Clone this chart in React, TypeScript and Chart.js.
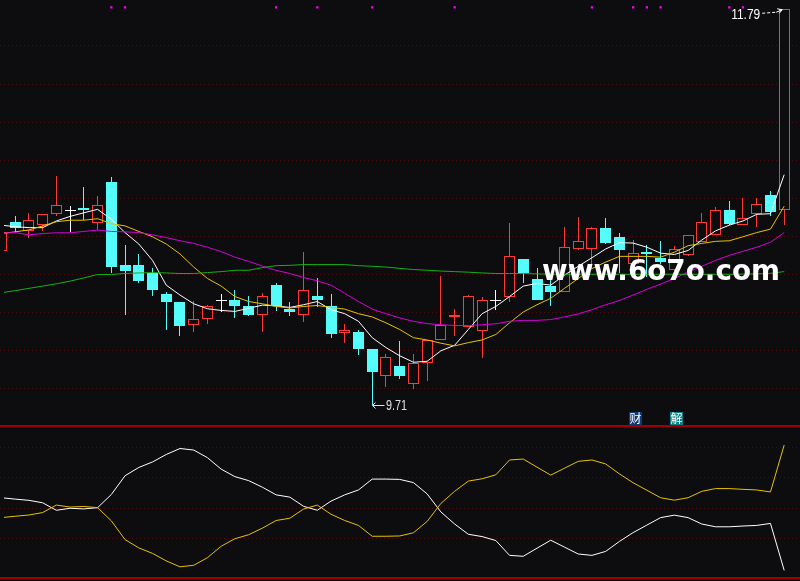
import React, { useEffect, useRef } from "react";
import { Chart, registerables } from "chart.js";

Chart.register(...registerables);

// ---------- data ----------
const OPEN = [10.519,10.673,10.626,10.657,10.713,10.733,10.745,10.669,10.885,10.445,10.445,10.407,10.295,10.253,10.133,10.164,10.262,10.264,10.232,10.184,10.341,10.217,10.182,10.284,10.232,10.089,10.093,10.005,9.863,9.916,9.820,9.930,10.055,10.172,10.120,10.099,10.262,10.281,10.480,10.372,10.336,10.303,10.531,10.531,10.640,10.595,10.454,10.514,10.485,10.423,10.498,10.569,10.604,10.733,10.659,10.713,10.813,10.733];
const HIGH = [10.637,10.704,10.719,10.713,10.916,10.756,10.854,10.807,10.911,10.554,10.502,10.429,10.305,10.253,10.258,10.238,10.295,10.315,10.284,10.300,10.350,10.253,10.517,10.381,10.295,10.139,10.105,10.005,9.979,10.046,9.979,10.055,10.388,10.217,10.289,10.279,10.315,10.668,10.480,10.433,10.393,10.647,10.699,10.648,10.692,10.616,10.580,10.552,10.573,10.548,10.604,10.718,10.750,10.782,10.799,10.799,10.833,11.79];
const LOW = [10.507,10.621,10.586,10.623,10.704,10.621,10.682,10.630,10.405,10.186,10.353,10.284,10.105,10.073,10.094,10.138,10.198,10.169,10.177,10.094,10.203,10.177,10.146,10.224,10.062,10.036,9.973,9.71,9.804,9.846,9.794,9.835,10.051,10.073,10.120,9.956,10.212,10.255,10.353,10.264,10.232,10.303,10.523,10.433,10.557,10.405,10.402,10.384,10.450,10.414,10.492,10.569,10.604,10.656,10.659,10.647,10.705,10.656];
const CLOSE = [10.621,10.643,10.682,10.713,10.761,10.733,10.735,10.761,10.436,10.414,10.364,10.315,10.255,10.125,10.164,10.232,10.262,10.234,10.186,10.284,10.234,10.198,10.314,10.264,10.082,10.105,10.005,9.887,9.963,9.866,9.932,10.055,10.133,10.184,10.284,10.262,10.262,10.492,10.405,10.264,10.305,10.542,10.573,10.640,10.562,10.526,10.511,10.505,10.462,10.531,10.604,10.671,10.733,10.661,10.692,10.768,10.726,11.79];

const MA5 = [10.656,10.648,10.643,10.643,10.678,10.702,10.721,10.739,10.687,10.617,10.557,10.471,10.341,10.289,10.243,10.217,10.208,10.203,10.219,10.236,10.232,10.224,10.238,10.255,10.212,10.191,10.151,10.065,10.013,9.970,9.936,9.941,9.996,10.025,10.108,10.191,10.229,10.281,10.336,10.350,10.341,10.393,10.440,10.485,10.531,10.564,10.562,10.540,10.509,10.502,10.523,10.578,10.626,10.656,10.678,10.713,10.716,10.921];
const MA10 = [10.611,10.621,10.631,10.652,10.674,10.682,10.682,10.690,10.664,10.652,10.623,10.595,10.557,10.505,10.436,10.376,10.336,10.281,10.255,10.243,10.229,10.221,10.229,10.234,10.224,10.215,10.191,10.174,10.143,10.108,10.065,10.053,10.036,10.022,10.039,10.053,10.082,10.143,10.200,10.238,10.272,10.324,10.376,10.428,10.462,10.492,10.492,10.492,10.488,10.514,10.548,10.560,10.571,10.574,10.595,10.617,10.635,10.756];
const MA20 = [10.614,10.617,10.605,10.612,10.616,10.616,10.623,10.630,10.623,10.621,10.617,10.605,10.591,10.574,10.560,10.540,10.517,10.488,10.466,10.441,10.419,10.402,10.381,10.364,10.341,10.298,10.255,10.215,10.191,10.169,10.151,10.139,10.133,10.129,10.129,10.133,10.138,10.151,10.156,10.156,10.160,10.174,10.190,10.212,10.238,10.260,10.289,10.319,10.346,10.376,10.410,10.440,10.471,10.497,10.519,10.540,10.566,10.617];
const MA60 = [10.301,10.312,10.324,10.336,10.348,10.362,10.379,10.397,10.397,10.402,10.405,10.407,10.405,10.402,10.402,10.407,10.412,10.419,10.419,10.433,10.443,10.445,10.449,10.449,10.449,10.449,10.443,10.440,10.436,10.429,10.423,10.419,10.415,10.412,10.409,10.405,10.402,10.402,10.402,10.400,10.398,10.398,10.398,10.398,10.398,10.398,10.398,10.398,10.398,10.398,10.398,10.398,10.398,10.398,10.399,10.400,10.403,10.412];

const SUB_WHITE = [56.5,55.6,54.8,53.2,48.3,49.6,49.2,50.0,58.6,70.9,76.3,79.9,84.8,88.7,87.7,82.7,75.2,70.3,67.7,63.4,58.4,56.9,50.9,48.3,54.3,58.4,61.6,68.7,68.7,68.5,66.4,59.0,47.2,39.3,32.6,31.1,28.5,18.8,18.2,23.5,28.7,24.2,19.7,18.8,21.4,27.9,33.7,38.6,43.5,45.1,43.5,39.3,37.5,37.5,38.0,38.4,39.7,9.0];
const SUB_YELLOW = [43.5,44.4,45.2,46.8,51.7,50.4,50.8,50.0,41.4,29.1,23.7,20.1,15.2,11.3,12.3,17.3,24.8,29.7,32.3,36.6,41.6,43.1,49.1,51.7,45.7,41.6,38.4,31.3,31.3,31.5,33.6,41.0,52.8,60.7,67.4,68.9,71.5,81.2,81.8,76.5,71.3,75.8,80.3,81.2,78.6,72.1,66.3,61.4,56.5,54.9,56.5,60.7,62.5,62.5,62.0,61.6,60.3,91.0];

const SIGNAL_IDX = [8, 9, 20, 23, 27, 33, 43, 46, 47, 48, 53, 54];
const SIGNAL_LEVEL = 11.8;

const PRICE_TICKS = [9.8, 10.0, 10.2, 10.4, 10.6, 10.8, 11.0, 11.2, 11.4, 11.6];
const SUB_TICKS = [30, 50, 70, 90];

const HIGH_LABEL = "11.79";
const LOW_LABEL = "9.71";
const WATERMARK = "www.6o7o.com";
const TAG_A = "财";
const TAG_B = "解";

// ---------- styles ----------
const BG = "#0d0d10";
const UP = "#ff3838";
const DOWN = "#54fcfc";
const DOJI = "#ffffff";
const GRID = "#4e0e0e";
const SEP = "#a00000";

const IDX = OPEN.map((_, i) => i);
const colorOf = (i: number) =>
  CLOSE[i] > OPEN[i] ? UP : CLOSE[i] < OPEN[i] ? DOWN : DOJI;

const decorPlugin = {
  id: "decor",
  beforeDraw(chart: any) {
    const ctx = chart.ctx;
    ctx.save();
    ctx.fillStyle = BG;
    ctx.fillRect(0, 0, chart.width, chart.height);
    ctx.restore();
  },
  beforeDatasetsDraw(chart: any) {
    // snap candle elements to whole pixels for crisp 1px edges
    [0, 1].forEach((di) => {
      chart.getDatasetMeta(di).data.forEach((el: any) => {
        el.x = Math.floor(el.x) + 0.5;
        const top = Math.round(el.y);
        let base = Math.round(el.base);
        if (base === top) base = top + 1;
        el.y = top;
        el.base = base;
      });
    });

    const ctx = chart.ctx;
    const ys = chart.scales.y;
    const y2 = chart.scales.y2;
    ctx.save();
    ctx.strokeStyle = GRID;
    ctx.lineWidth = 1;
    ctx.setLineDash([1, 3]);
    PRICE_TICKS.forEach((t) => {
      const py = Math.round(ys.getPixelForValue(t)) + 0.5;
      ctx.beginPath();
      ctx.moveTo(0, py);
      ctx.lineTo(chart.width, py);
      ctx.stroke();
    });
    SUB_TICKS.forEach((t) => {
      const py = Math.round(y2.getPixelForValue(t)) + 0.5;
      ctx.beginPath();
      ctx.moveTo(0, py);
      ctx.lineTo(chart.width, py);
      ctx.stroke();
    });
    ctx.setLineDash([]);
    ctx.strokeStyle = SEP;
    ctx.lineWidth = 2;
    [426, 578].forEach((py) => {
      ctx.beginPath();
      ctx.moveTo(0, py);
      ctx.lineTo(chart.width, py);
      ctx.stroke();
    });
    ctx.restore();
  },
  afterDatasetsDraw(chart: any) {
    const ctx = chart.ctx;
    const xs = chart.scales.x;
    const ys = chart.scales.y;
    ctx.save();

    // watermark
    ctx.font = "bold 29px 'DejaVu Sans'";
    ctx.fillStyle = "#ffffff";
    ctx.textBaseline = "alphabetic";
    const w = ctx.measureText(WATERMARK).width;
    ctx.save();
    ctx.translate(542, 280);
    ctx.scale(238 / w, 1);
    ctx.fillText(WATERMARK, 0, 0);
    ctx.restore();

    // high annotation
    const hiIdx = HIGH.indexOf(Math.max(...HIGH));
    const hx = xs.getPixelForValue(hiIdx);
    const hy = ys.getPixelForValue(HIGH[hiIdx]);
    ctx.fillStyle = "#ffffff";
    ctx.strokeStyle = "#ffffff";
    ctx.lineWidth = 1;
    ctx.font = "14px 'Liberation Sans'";
    ctx.textBaseline = "middle";
    const tw = ctx.measureText(HIGH_LABEL).width;
    ctx.save();
    ctx.translate(hx - 24, hy + 5.5);
    ctx.scale(29 / tw, 1);
    ctx.textAlign = "right";
    ctx.fillText(HIGH_LABEL, 0, 0);
    ctx.restore();
    ctx.setLineDash([3, 2]);
    ctx.beginPath();
    ctx.moveTo(hx - 22, hy + 4);
    ctx.lineTo(hx - 8, hy + 3);
    ctx.stroke();
    ctx.setLineDash([]);
    ctx.beginPath();
    ctx.moveTo(hx - 8, hy + 3);
    ctx.lineTo(hx - 2, hy + 0.5);
    ctx.moveTo(hx - 2, hy + 0.5);
    ctx.lineTo(hx - 7, hy - 0.5);
    ctx.moveTo(hx - 2, hy + 0.5);
    ctx.lineTo(hx - 5, hy + 4);
    ctx.stroke();

    // low annotation
    const loIdx = LOW.indexOf(Math.min(...LOW));
    const lx = Math.floor(xs.getPixelForValue(loIdx)) + 0.5;
    const ly = Math.round(ys.getPixelForValue(LOW[loIdx])) + 0.5;
    ctx.strokeStyle = "#e0e0e0";
    ctx.fillStyle = "#e0e0e0";
    ctx.beginPath();
    ctx.moveTo(lx, ly);
    ctx.lineTo(lx + 12, ly);
    ctx.moveTo(lx, ly);
    ctx.lineTo(lx + 3, ly - 3);
    ctx.moveTo(lx, ly);
    ctx.lineTo(lx + 3, ly + 3);
    ctx.stroke();
    const lw = ctx.measureText(LOW_LABEL).width;
    ctx.save();
    ctx.translate(lx + 13.5, ly + 0.5);
    ctx.scale(21 / lw, 1);
    ctx.textAlign = "left";
    ctx.fillText(LOW_LABEL, 0, 0);
    ctx.restore();

    // tags
    ctx.font = "12px 'Noto Sans CJK SC'";
    ctx.textAlign = "center";
    ctx.textBaseline = "middle";
    ctx.fillStyle = "#0b3a78";
    ctx.fillRect(629, 412, 13, 13);
    ctx.fillStyle = "#0c8086";
    ctx.fillRect(670, 412, 13, 13);
    ctx.fillStyle = "#ffffff";
    ctx.fillText(TAG_A, 635.5, 418.5);
    ctx.fillText(TAG_B, 676.5, 418.5);

    ctx.restore();
  },
};

export default function App() {
  const ref = useRef<HTMLCanvasElement | null>(null);

  useEffect(() => {
    if (!ref.current) return;
    const lineDs = (data: number[], color: string, axis: string) => ({
      type: "line" as const,
      data: IDX.map((i) => ({ x: i, y: data[i] })),
      borderColor: color,
      borderWidth: 1,
      pointRadius: 0,
      tension: 0,
      yAxisID: axis,
      order: 1,
    });

    const chart = new Chart(ref.current, {
      type: "bar",
      data: {
        datasets: [
          {
            type: "bar",
            data: IDX.map((i) => ({ x: i, y: [LOW[i], HIGH[i]] })) as any,
            backgroundColor: IDX.map(colorOf),
            borderWidth: 0,
            barThickness: 1,
            grouped: false,
            inflateAmount: 0,
            yAxisID: "y",
            order: 4,
          } as any,
          {
            type: "bar",
            data: IDX.map((i) => ({
              x: i,
              y:
                OPEN[i] === CLOSE[i]
                  ? [OPEN[i] - 0.0013, OPEN[i] + 0.0013]
                  : [OPEN[i], CLOSE[i]],
            })) as any,
            backgroundColor: IDX.map((i) =>
              colorOf(i) === UP ? BG : colorOf(i)
            ),
            borderColor: IDX.map(colorOf),
            borderWidth: IDX.map((i) => (OPEN[i] === CLOSE[i] ? 0 : 1)),
            borderSkipped: false,
            barThickness: 11,
            grouped: false,
            inflateAmount: 0,
            yAxisID: "y",
            order: 3,
          } as any,
          lineDs(MA60, "#14b014", "y"),
          lineDs(MA20, "#d800d8", "y"),
          lineDs(MA10, "#e6c200", "y"),
          lineDs(MA5, "#ffffff", "y"),
          lineDs(SUB_YELLOW, "#e6c200", "y2"),
          lineDs(SUB_WHITE, "#ffffff", "y2"),
          {
            type: "scatter",
            data: SIGNAL_IDX.map((i) => ({ x: i, y: SIGNAL_LEVEL })),
            pointStyle: "rect",
            pointRadius: 1.6,
            backgroundColor: "#ff00ff",
            borderWidth: 0,
            yAxisID: "y",
            order: 0,
          } as any,
        ],
      },
      options: {
        responsive: false,
        animation: false,
        devicePixelRatio: 1,
        events: [],
        layout: { padding: 0 },
        plugins: { legend: { display: false }, tooltip: { enabled: false } },
        scales: {
          x: { type: "linear", min: 0.185, max: 57.86, offset: false, display: false },
          y: { type: "linear", min: 8.808, max: 11.8176, display: false },
          y2: { type: "linear", min: 4.65, max: 379.48, display: false },
        },
      },
      plugins: [decorPlugin],
    } as any);

    return () => chart.destroy();
  }, []);

  return (
    <div
      style={{
        position: "fixed",
        left: 0,
        top: 0,
        width: 800,
        height: 581,
        background: BG,
      }}
    >
      <canvas ref={ref} width={800} height={581} style={{ display: "block" }} />
    </div>
  );
}
